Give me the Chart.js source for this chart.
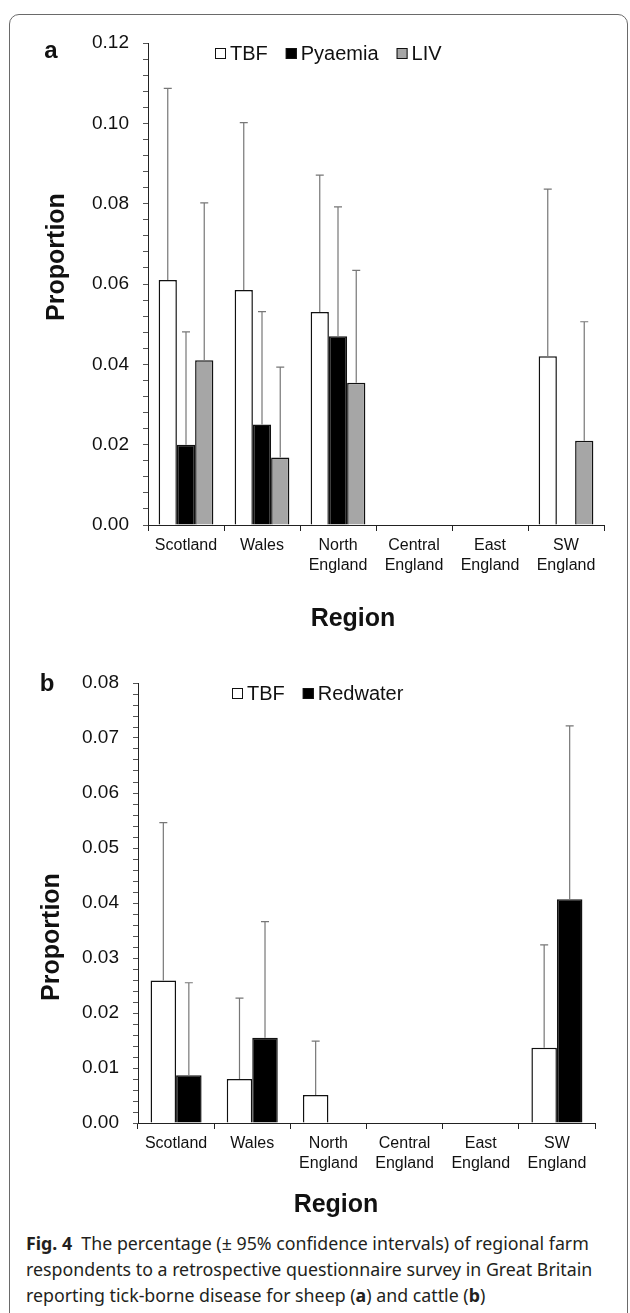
<!DOCTYPE html>
<html>
<head>
<meta charset="utf-8">
<script src="https://cdn.jsdelivr.net/npm/chart.js@4.4.0/dist/chart.umd.min.js"></script>
<style>
  body { margin: 0; background: #fff; width: 630px; height: 1313px; overflow: hidden; position: relative; }
  #frame { position: absolute; left: 9px; top: 14px; width: 619px; height: 1320px; box-sizing: border-box;
           border: 1.5px solid #6a6a6a; border-radius: 10px; }
  canvas { position: absolute; left: 0; }
  #chartA { top: 0; }
  #chartB { top: 650px; }
  #caption { position: absolute; left: 26px; top: 1230px; font-family: "Noto Sans", "Open Sans", sans-serif;
             font-size: 17.8px; line-height: 26px; color: #231f20; white-space: nowrap; }
</style>
</head>
<body>
<div id="frame"></div>
<canvas id="chartA" width="630" height="650"></canvas>
<canvas id="chartB" width="630" height="580"></canvas>
<div id="caption"><b>Fig. 4</b>&nbsp; The percentage (± 95% confidence intervals) of regional farm<br>respondents to a retrospective questionnaire survey in Great Britain<br>reporting tick-borne disease for sheep (<b>a</b>) and cattle (<b>b</b>)</div>
<script>
// regions (x categories)
const regions = [["Scotland"], ["Wales"], ["North", "England"], ["Central", "England"], ["East", "England"], ["SW", "England"]];

// a: sheep, proportion of farms
const sheepTBF = [0.061, 0.0585, 0.053, 0, 0, 0.042];
const sheepPyaemia = [0.020, 0.025, 0.047, 0, 0, 0];
const sheepLIV = [0.041, 0.0168, 0.0354, 0, 0, 0.021];
// upper 95% limits
const sheepTBFUpper = [0.1087, 0.1002, 0.0871, null, null, 0.0836];
const sheepPyaemiaUpper = [0.0481, 0.0531, 0.0792, null, null, null];
const sheepLIVUpper = [0.0802, 0.0393, 0.0634, null, null, 0.0506];

// b: cattle
const cattleTBF = [0.0259, 0.0080, 0.0051, 0, 0, 0.0137];
const cattleRedwater = [0.0087, 0.0155, 0, 0, 0, 0.0407];
const cattleTBFUpper = [0.0546, 0.0227, 0.0149, null, null, 0.0324];
const cattleRedwaterUpper = [0.0255, 0.0366, null, null, null, 0.0722];

// y tick labels
const yLabelsA = ["0.00", "0.02", "0.04", "0.06", "0.08", "0.10", "0.12"];
const yLabelsB = ["0.00", "0.01", "0.02", "0.03", "0.04", "0.05", "0.06", "0.07", "0.08"];

Chart.defaults.font.family = '"Liberation Sans", Arial, sans-serif';
Chart.defaults.color = "#111";

// error bars, panel letter, axis titles and legend
const extras = {
  id: "extras",
  afterDatasetsDraw(chart, args, o) {
    const ctx = chart.ctx;
    const y = chart.scales.y;
    ctx.save();
    ctx.strokeStyle = "#777";
    ctx.lineWidth = 1.2;
    o.upper.forEach((arr, i) => {
      chart.getDatasetMeta(i).data.forEach((bar, j) => {
        if (arr[j] == null) return;
        const top = y.getPixelForValue(arr[j]);
        ctx.beginPath();
        ctx.moveTo(bar.x, bar.y);
        ctx.lineTo(bar.x, top);
        ctx.moveTo(bar.x - 4, top);
        ctx.lineTo(bar.x + 4, top);
        ctx.stroke();
      });
    });
    ctx.restore();
  },
  afterDraw(chart, args, o) {
    const ctx = chart.ctx;
    ctx.save();
    ctx.fillStyle = "#111";
    ctx.textAlign = "center";
    ctx.textBaseline = "middle";
    ctx.font = 'bold 24px "Liberation Sans"';
    ctx.fillText(o.letter, o.letterX, o.letterY);
    ctx.font = 'bold 25px "Liberation Sans"';
    ctx.fillText("Region", o.xTitleX, o.xTitleY);
    ctx.save();
    ctx.translate(o.yTitleX, o.yTitleY);
    ctx.rotate(-Math.PI / 2);
    ctx.fillText("Proportion", 0, 0);
    ctx.restore();

    // legend
    ctx.font = '20px "Liberation Sans"';
    ctx.textAlign = "left";
    const items = chart.data.datasets.map(d => ({ label: d.label, color: d.backgroundColor, w: ctx.measureText(d.label).width }));
    const total = items.reduce((s, it) => s + 15 + it.w, 0) + 18 * (items.length - 1);
    let x = Math.round(o.legendX - total / 2);
    items.forEach(it => {
      ctx.fillStyle = it.color;
      ctx.fillRect(x, o.legendY - 5, 11, 11);
      ctx.strokeStyle = "#111";
      ctx.lineWidth = 1;
      ctx.strokeRect(x + 0.5, o.legendY - 4.5, 10, 10);
      ctx.fillStyle = "#111";
      ctx.fillText(it.label, x + 15, o.legendY + 1);
      x += 15 + it.w + 18;
    });
    ctx.restore();
  }
};

function makeChart(id, datasets, upper, yMax, yStep, yLabels, pad, catPct, ex) {
  return new Chart(document.getElementById(id), {
    type: "bar",
    data: { labels: regions, datasets: datasets },
    options: {
      responsive: false,
      animation: false,
      layout: { padding: pad },
      categoryPercentage: catPct,
      barPercentage: 1,
      plugins: {
        legend: { display: false },
        tooltip: { enabled: false },
        extras: Object.assign({ upper: upper }, ex)
      },
      scales: {
        x: {
          grid: { offset: true, drawOnChartArea: false, tickLength: 6, color: "#222" },
          border: { color: "#222", width: 1 },
          ticks: { font: { size: 16, lineHeight: 1.25 }, padding: 5, maxRotation: 0, autoSkip: false, color: "#111" },
          afterFit: s => { s.height = 60; }
        },
        y: {
          min: 0,
          max: yMax,
          grid: { drawOnChartArea: false, tickLength: 5, color: "#555" },
          border: { color: "#222", width: 1 },
          ticks: {
            stepSize: yStep,
            maxTicksLimit: 100,
            autoSkip: false,
            padding: 14,
            font: { size: 19 },
            color: "#111",
            callback: v => {
              const s = v.toFixed(2);
              return Math.abs(v - parseFloat(s)) < 1e-9 && yLabels.includes(s) ? s : "";
            }
          },
          afterFit: s => { s.width = 60; }
        }
      }
    },
    plugins: [extras]
  });
}

const barStyle = { borderColor: "#111", borderWidth: 1.5 };

makeChart("chartA", [
  Object.assign({ label: "TBF", data: sheepTBF, backgroundColor: "#ffffff" }, barStyle),
  Object.assign({ label: "Pyaemia", data: sheepPyaemia, backgroundColor: "#000000" }, barStyle),
  Object.assign({ label: "LIV", data: sheepLIV, backgroundColor: "#a6a6a6" }, barStyle)
], [sheepTBFUpper, sheepPyaemiaUpper, sheepLIVUpper], 0.12, 0.004, yLabelsA,
  { left: 88, right: 26, top: 43, bottom: 65 }, 0.72,
  { letter: "a", letterX: 51, letterY: 51, xTitleX: 353, xTitleY: 619, yTitleX: 57, yTitleY: 257, legendX: 328, legendY: 53 });

makeChart("chartB", [
  Object.assign({ label: "TBF", data: cattleTBF, backgroundColor: "#ffffff" }, barStyle),
  Object.assign({ label: "Redwater", data: cattleRedwater, backgroundColor: "#000000" }, barStyle)
], [cattleTBFUpper, cattleRedwaterUpper], 0.08, 0.002, yLabelsB,
  { left: 78, right: 35, top: 33, bottom: 47 }, 0.67,
  { letter: "b", letterX: 47, letterY: 34, xTitleX: 336, xTitleY: 555, yTitleX: 52, yTitleY: 287, legendX: 318, legendY: 43 });
</script>
</body>
</html>
